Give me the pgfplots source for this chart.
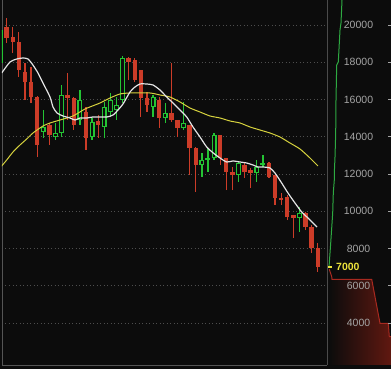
\documentclass[border=0pt]{standalone}
\usepackage{pgfplots}
\pgfplotsset{compat=1.18}
\usepackage{pgfplotstable}
\usepackage{fontspec}
\setmainfont{Liberation Sans}
\definecolor{bg}{RGB}{12,12,12}
\definecolor{gridcol}{RGB}{78,78,78}
\definecolor{axcol}{RGB}{85,85,85}
\definecolor{sepcol}{RGB}{75,75,75}
\definecolor{cred}{RGB}{204,60,40}
\definecolor{cgreen}{RGB}{36,196,52}
\definecolor{wcol}{RGB}{228,228,228}
\definecolor{ycol}{RGB}{214,210,62}
\definecolor{labgray}{RGB}{165,165,165}
\definecolor{lab7}{RGB}{238,228,60}
\definecolor{dgreen}{RGB}{46,170,66}
\definecolor{dred}{RGB}{168,42,32}
\definecolor{dfill}{RGB}{96,24,16}

\pgfplotstableread{
i o h l c
0 19893 20376 19033 19302
1 19356 19893 18496 19087
2 19087 19624 17208 17583
3 17476 17959 15973 16939
4 16939 17745 15811 16134
5 16134 16200 12912 13556
7 14630 14737 13556 14093
10 16241 17422 14898 16080
11 16080 16134 14361 14630
13 15328 15597 13287 13932
15 14845 15167 13932 14630
20 18228 18282 17046 18013
21 18120 18228 16939 17046
22 17583 17600 15060 16080
23 16080 16400 15328 15704
25 15973 16134 14469 15006
27 15274 17959 14791 14898
28 14898 14898 13985 14469
30 14630 14630 11945 13395
31 13395 13449 11032 12482
35 14093 14093 12482 12858
36 12858 12858 11139 12105
37 12105 12374 11139 11945
39 12482 12589 11784 12105
40 12213 12320 11247 12052
43 12589 12643 11784 11837
44 11945 11945 10334 10710
45 10710 10978 10334 10602
46 10764 10871 9528 9689
47 9797 9797 8562 9636
49 9904 9958 8991 9152
50 9152 9260 7757 8025
51 8025 8293 6736 7005
}\redtab

\pgfplotstableread{
i o h l c
-1 17959 20269 17852 19731
6 14254 15435 13932 14523
8 13985 14737 13824 14200
9 14200 16778 13985 16241
12 14898 16509 14630 15973
14 13985 15006 13824 14791
16 14523 15865 13932 15597
17 15328 16348 15060 15973
18 15435 16134 14898 15704
19 15973 18335 15811 18228
24 15597 16241 15060 16134
26 15006 15811 14737 15274
29 14469 15865 14361 14737
32 12482 13126 11837 12750
33 12750 13395 12105 12858
34 12858 14200 12750 14093
38 11945 12643 11569 12589
41 12052 12750 11569 12374
42 12482 13019 12374 12589
48 9636 10226 8884 9904
}\greentab

\begin{document}
\begin{tikzpicture}[x=1pt,y=1pt]
\fill[bg] (0,0) rectangle (391,369);
\begin{axis}[at={(2pt,4pt)}, anchor=south west, scale only axis,
  width=325pt, height=365pt,
  xmin=-0.77, xmax=52.51, ymin=1742, ymax=21342,
  axis x line*=bottom, axis y line*=left,
  axis line style={draw=axcol, line width=0.8pt, -},
  xtick=\empty, ytick={4000,6000,...,20000}, yticklabels={},
  scaled y ticks=false,
  major tick length=0pt,
  ymajorgrids, grid style={gridcol, dash pattern=on 1pt off 2.5pt, line width=0.8pt},
  clip=true]
% red wicks
\addplot[draw=none, mark=none, forget plot,
  error bars/.cd, y dir=plus, y explicit, error mark=none,
  error bar style={draw=cred, line width=1.2pt}]
  table[x=i, y=l, y error plus expr=\thisrow{h}-\thisrow{l}] {\redtab};
% red bodies
\addplot[draw=none, mark=none, forget plot,
  error bars/.cd, y dir=plus, y explicit, error mark=none,
  error bar style={draw=cred, line width=4.4pt}]
  table[x=i, y=c, y error plus expr=\thisrow{o}-\thisrow{c}] {\redtab};
% green wicks
\addplot[draw=none, mark=none, forget plot,
  error bars/.cd, y dir=plus, y explicit, error mark=none,
  error bar style={draw=cgreen, line width=1.3pt}]
  table[x=i, y=l, y error plus expr=\thisrow{h}-\thisrow{l}] {\greentab};
% green bodies (outline)
\addplot[draw=none, mark=none, forget plot,
  error bars/.cd, y dir=plus, y explicit, error mark=none,
  error bar style={draw=cgreen, line width=5pt}]
  table[x=i, y=o, y error plus expr=\thisrow{c}-\thisrow{o}] {\greentab};
% green bodies (hollow inside)
\addplot[draw=none, mark=none, forget plot,
  error bars/.cd, y dir=plus, y explicit, error mark=none,
  error bar style={draw=bg, line width=2.4pt}]
  table[x=i, y expr=\thisrow{o}+60, y error plus expr={max(\thisrow{c}-\thisrow{o}-120,0)}] {\greentab};
% slow moving average (yellow)
\addplot[ycol, line width=1pt, smooth, tension=0.4] coordinates {
(-1.10,12321)(0,12750)(1.03,13180)(2.18,13556)(3.28,13878)(4.31,14200)(5.95,14576)
(7.10,14737)(8.74,14898)(10.87,15113)(12.84,15489)(15.30,15811)(16.93,16080)
(18.57,16295)(20.21,16348)(23.49,16348)(25.13,16241)(26.77,16134)(28.41,15865)
(30.05,15543)(31.69,15328)(33.33,15113)(34.97,15006)(36.61,14845)(38.25,14737)
(39.89,14523)(41.52,14361)(43.16,14200)(44.80,13985)(46.44,13663)(48.08,13341)
(49.72,12858)(51.03,12428)};
% fast moving average (white)
\addplot[wcol, line width=1.2pt, smooth, tension=0.4] coordinates {
(-0.82,17422)(0.54,18013)(1.64,18174)(2.67,18228)(3.49,18174)(4.30,17852)(5.13,17422)
(5.95,16885)(7.10,16134)(7.59,15597)(8.25,15274)(9.23,15113)(10.38,15006)(11.20,14898)
(12.02,15006)(13.16,15006)(14.15,15060)(15.30,15060)(16.44,15060)(17.43,15167)
(18.25,15435)(19.07,15758)(20.21,16402)(21.03,16670)(21.85,16832)(22.95,16832)
(23.98,16778)(25.13,16509)(26.23,16134)(27.26,15811)(28.41,15435)(29.51,15060)
(30.54,14523)(31.69,13985)(32.79,13449)(33.87,13126)(34.97,12858)(36.07,12643)
(37.10,12697)(38.25,12643)(39.34,12589)(40.38,12482)(41.20,12374)(42.02,12374)
(43.16,12320)(43.98,12052)(45.08,11515)(46.11,10978)(47.26,10441)(48.36,9958)
(49.39,9636)(50.54,9260)(50.87,9152)};
\end{axis}

\begin{axis}[at={(327pt,4pt)}, anchor=south west, scale only axis,
  width=64pt, height=365pt,
  xmin=0, xmax=64, ymin=1742, ymax=21342,
  axis x line=none, axis y line*=right,
  y axis line style={draw=none},
  axis on top,
  ytick={4000,6000,...,20000},
  scaled y ticks=false,
  tick align=inside, major tick length=3pt,
  ytick style={draw=labgray, line width=0.6pt},
  yticklabel style={anchor=center, xshift=-32.5pt, text=labgray,
    font=\fontsize{10.5}{12}\selectfont},
  /pgf/number format/1000 sep={},
  /pgf/number format/assume math mode=true,
  clip=true]
\draw[sepcol, line width=0.8pt] (rel axis cs:0,0) -- (rel axis cs:0,1);
% ask side area
\addplot[draw=none, left color=bg, right color=dfill] coordinates {
(2.3,6881)(4.7,6483)(5,6343)(44.7,6343)(53,3981)(61.3,3981)(62.3,3262)(64,3262)} \closedcycle;
\addplot[dred, line width=1pt] coordinates {
(2.3,6881)(4.7,6483)(5,6343)(44.7,6343)(53,3981)(61.3,3981)(62.3,3262)(64,3262)};
% bid side line
\addplot[dgreen, line width=1pt] coordinates {
(2,7005)(3,7756)(3.7,8293)(5.7,9904)(6.3,10978)(7.3,11676)(7.3,12052)(8,12912)
(8.7,14200)(9,15973)(9.7,17852)(11.3,18013)(13,19731)(14,20107)(15,21342)};
% last price marker
\addplot[lab7, line width=1.8pt] coordinates {(1,7005)(5,7005)};
\node[anchor=west, text=lab7, inner sep=0pt, font=\bfseries\fontsize{10.5}{12}\selectfont] at (axis cs:9,7005) {7000};
\end{axis}
\pgfresetboundingbox
\useasboundingbox (0,0) rectangle (391,369);
\end{tikzpicture}
\end{document}
